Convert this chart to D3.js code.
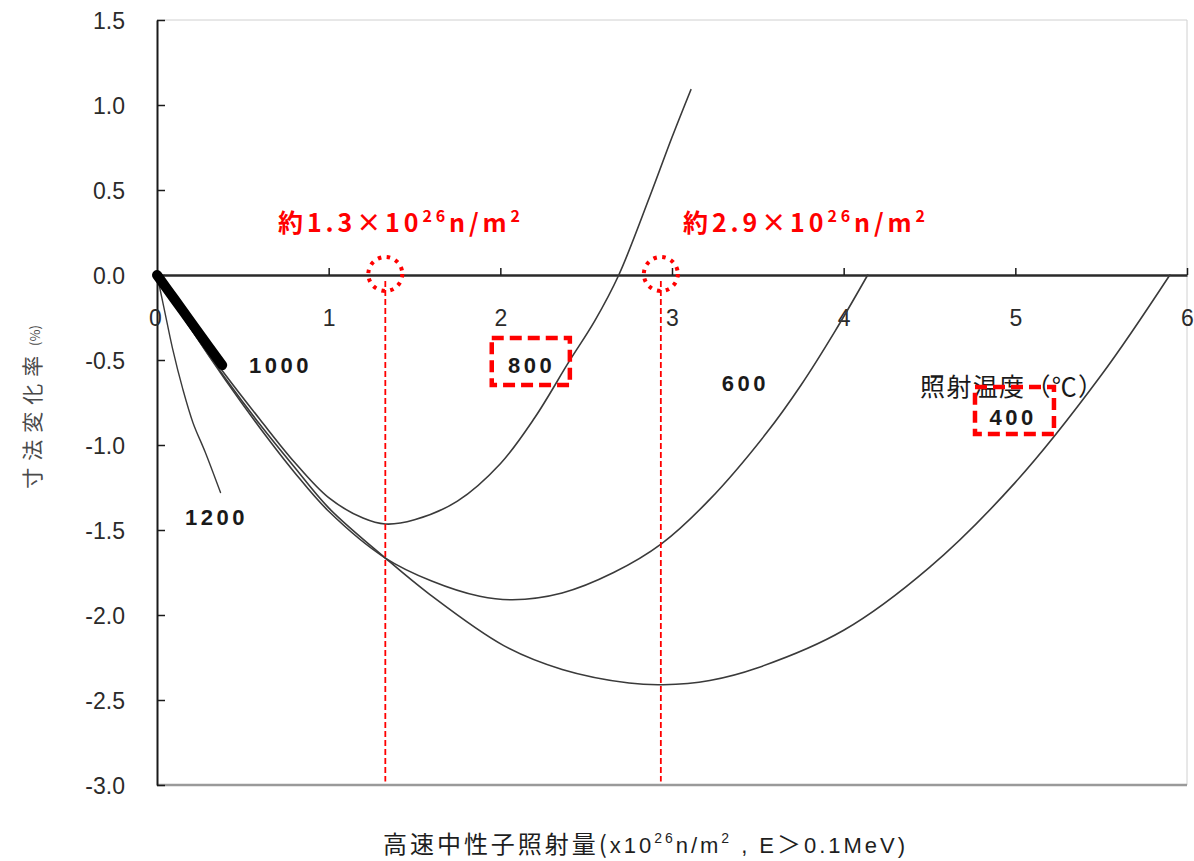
<!DOCTYPE html>
<html>
<head>
<meta charset="utf-8">
<script src="https://cdn.jsdelivr.net/npm/d3@7"></script>
<style>
  html, body { margin: 0; padding: 0; background: #fff; }
  svg { display: block; }
  .num { font-family: "Liberation Sans", Arial, sans-serif; }
  .jp { font-family: "Noto Sans CJK JP", "Noto Sans", sans-serif; }
</style>
</head>
<body>
<svg id="chart" width="1194" height="861"></svg>
<script>
// Dimensional change of graphite vs fast neutron fluence, by irradiation temperature
const xTicks = [0, 1, 2, 3, 4, 5, 6];
const yTicks = [1.5, 1.0, 0.5, 0.0, -0.5, -1.0, -1.5, -2.0, -2.5, -3.0];

// fluence (x10^26 n/m^2) and dimensional change (%) per irradiation temperature
const dose1200 = [0, 0.04, 0.09, 0.15, 0.21, 0.28, 0.37];
const change1200 = [0, -0.19, -0.43, -0.67, -0.87, -1.04, -1.28];

const dose1000 = [0, 0.10, 0.20, 0.30, 0.38];
const change1000 = [0, -0.14, -0.28, -0.42, -0.53];

const dose800 = [0, 0.2, 0.4, 0.6, 0.8, 1.0, 1.2, 1.33, 1.5, 1.75, 2.0, 2.2, 2.4, 2.55, 2.69, 2.87, 3.0, 3.11];
const change800 = [0, -0.31, -0.59, -0.85, -1.10, -1.31, -1.43, -1.465, -1.44, -1.33, -1.11, -0.84, -0.51, -0.27, 0, 0.46, 0.81, 1.09];

const dose600 = [0, 0.2, 0.4, 0.6, 0.8, 1.0, 1.33, 1.6, 1.88, 2.07, 2.36, 2.66, 2.94, 3.22, 3.55, 3.75, 3.95, 4.14];
const change600 = [0, -0.32, -0.62, -0.90, -1.16, -1.39, -1.665, -1.80, -1.89, -1.91, -1.87, -1.75, -1.58, -1.32, -0.93, -0.65, -0.33, 0];

const dose400 = [0, 0.2, 0.4, 0.6, 0.8, 1.0, 1.33, 1.59, 2.02, 2.36, 2.75, 2.95, 3.22, 3.5, 4.0, 4.5, 5.0, 5.5, 5.9];
const change400 = [0, -0.32, -0.61, -0.88, -1.13, -1.37, -1.665, -1.88, -2.18, -2.32, -2.40, -2.41, -2.385, -2.31, -2.09, -1.72, -1.22, -0.59, 0];

const temperatures = ["1200", "1000", "800", "600", "400"];
// fluences marked on the zero line
const markedFluence = [1.33, 2.935];

const svg = d3.select("#chart");
const x = d3.scaleLinear().domain([0, 6]).range([157, 1187]);
const y = d3.scaleLinear().domain([-3, 1.5]).range([785, 20]);

// plot frame (top, right, bottom)
svg.append("path")
  .attr("d", `M${x(0)},${y(1.5)}H${x(6)}V${y(-3)}`)
  .attr("fill", "none").attr("stroke", "#d0d0d0").attr("stroke-width", 1);
svg.append("line")
  .attr("x1", x(0)).attr("x2", x(6)).attr("y1", y(-3)).attr("y2", y(-3))
  .attr("stroke", "#9a9a9a").attr("stroke-width", 2.5);

// y axis with inward ticks
const yAxis = d3.axisLeft(y).tickValues(yTicks).tickSizeInner(-8).tickSizeOuter(0)
  .tickPadding(32).tickFormat(d => d.toFixed(1));
const gy = svg.append("g").attr("transform", `translate(${x(0)},0)`).call(yAxis);
gy.select(".domain").attr("stroke", "#1a1a1a").attr("stroke-width", 2);
gy.selectAll(".tick line").attr("stroke", "#1a1a1a").attr("stroke-width", 1.5);
gy.selectAll(".tick text").attr("class", "num").attr("font-size", 23).attr("fill", "#2b2b2b")
  .attr("dy", "0.36em");

// x axis on the zero line, ticks pointing up
const xAxis = d3.axisBottom(x).tickValues(xTicks).tickSizeInner(-7).tickSizeOuter(0)
  .tickPadding(35).tickFormat(d3.format("d"));
const gx = svg.append("g").attr("transform", `translate(0,${y(0)})`).call(xAxis);
gx.select(".domain").attr("stroke", "#2a2a2a").attr("stroke-width", 2.5);
gx.selectAll(".tick line").attr("stroke", "#1a1a1a").attr("stroke-width", 1.5);
gx.selectAll(".tick text").attr("class", "num").attr("font-size", 23).attr("fill", "#2b2b2b");
gx.selectAll(".tick").filter(d => d === 0).select("line").remove();
gx.selectAll(".tick").filter(d => d === 0).select("text").attr("x", -2);

// curves
const line = d3.line().x(d => x(d[0])).y(d => y(d[1])).curve(d3.curveCatmullRom.alpha(0.5));
const zipPts = (a, b) => a.map((v, i) => [v, b[i]]);
const curves = [
  { t: temperatures[4], pts: zipPts(dose400, change400), w: 1.6 },
  { t: temperatures[3], pts: zipPts(dose600, change600), w: 1.6 },
  { t: temperatures[2], pts: zipPts(dose800, change800), w: 1.6 },
  { t: temperatures[0], pts: zipPts(dose1200, change1200), w: 1.4 },
  { t: temperatures[1], pts: zipPts(dose1000, change1000), w: 10 }
];
svg.append("g").selectAll("path").data(curves).join("path")
  .attr("d", d => line(d.pts))
  .attr("fill", "none")
  .attr("stroke", d => d.w > 5 ? "#000" : "#3a3a3a")
  .attr("stroke-width", d => d.w)
  .attr("stroke-linecap", "round")
  .attr("stroke-linejoin", "round");

// temperature labels
const labelPos = {
  "1000": [0.536, -0.575],
  "1200": [0.163, -1.47],
  "800": [2.045, -0.575],
  "600": [3.29, -0.68],
  "400": [4.85, -0.88]
};
svg.append("g").selectAll("text").data(temperatures).join("text")
  .attr("class", "num")
  .attr("x", d => x(labelPos[d][0]))
  .attr("y", d => y(labelPos[d][1]))
  .attr("font-size", 22).attr("font-weight", "bold").attr("letter-spacing", 3.5)
  .attr("fill", "#1a1a1a")
  .text(d => d);

svg.append("text").attr("class", "jp")
  .attr("x", x(4.445)).attr("y", y(-0.71))
  .attr("font-size", 25).attr("fill", "#1a1a1a")
  .attr("textLength", 183).attr("lengthAdjust", "spacing")
  .text("照射温度（℃）");

// highlighted temperatures
const red = "#ff0000";
const boxes = [
  { x0: 1.95, x1: 2.405, y0: -0.37, y1: -0.647 },
  { x0: 4.765, x1: 5.225, y0: -0.659, y1: -0.935 }
];
svg.append("g").selectAll("rect").data(boxes).join("rect")
  .attr("x", d => x(d.x0)).attr("y", d => y(d.y0))
  .attr("width", d => x(d.x1) - x(d.x0)).attr("height", d => y(d.y1) - y(d.y0))
  .attr("fill", "none").attr("stroke", red).attr("stroke-width", 4.5)
  .attr("stroke-dasharray", "12,6");

// marked fluences: dotted circle on the zero line with a dashed drop line
const marks = svg.append("g").selectAll("g").data(markedFluence).join("g");
marks.append("line")
  .attr("x1", d => x(d)).attr("x2", d => x(d))
  .attr("y1", y(0) + 6).attr("y2", y(-2.98))
  .attr("stroke", red).attr("stroke-width", 1.8).attr("stroke-dasharray", "6,3");
marks.append("circle")
  .attr("cx", d => x(d)).attr("cy", y(0) - 1).attr("r", 17)
  .attr("fill", "none").attr("stroke", red).attr("stroke-width", 4)
  .attr("stroke-dasharray", "3.5,5.5");

const annLeft = [278, 683];
const ann = marks.append("text").attr("class", "jp")
  .attr("x", (d, i) => annLeft[i]).attr("y", 232)
  .attr("font-size", 25).attr("font-weight", "bold").attr("fill", red)
  .attr("textLength", 242).attr("lengthAdjust", "spacing");
ann.append("tspan").text(d => "約" + d.toFixed(1) + "×10");
ann.append("tspan").attr("font-size", 16).attr("dy", -10).text("26");
ann.append("tspan").attr("dy", 10).text("n/m");
ann.append("tspan").attr("font-size", 16).attr("dy", -10).text("2");

// axis titles
const yTitle = svg.append("text").attr("class", "jp")
  .attr("transform", "translate(40,407) rotate(-90)")
  .attr("text-anchor", "middle")
  .attr("fill", "#4a4a4a");
yTitle.append("tspan").attr("font-size", 21).attr("letter-spacing", 7).text("寸法変化率");
yTitle.append("tspan").attr("font-size", 13).text(" (%)");

const xTitle = svg.append("text").attr("class", "jp")
  .attr("x", 383).attr("y", 853)
  .attr("font-size", 24).attr("fill", "#1e1e1e")
  .attr("textLength", 522).attr("lengthAdjust", "spacing");
xTitle.append("tspan").text("高速中性子照射量(");
xTitle.append("tspan").attr("class", "num").attr("font-size", 22).text("x10");
xTitle.append("tspan").attr("class", "num").attr("font-size", 14).attr("dy", -10).text("26");
xTitle.append("tspan").attr("class", "num").attr("font-size", 22).attr("dy", 10).text("n/m");
xTitle.append("tspan").attr("class", "num").attr("font-size", 14).attr("dy", -10).text("2");
xTitle.append("tspan").attr("class", "num").attr("font-size", 22).attr("dy", 10).text(" , E");
xTitle.append("tspan").text("＞");
xTitle.append("tspan").attr("class", "num").attr("font-size", 22).text("0.1MeV)");
</script>
</body>
</html>
